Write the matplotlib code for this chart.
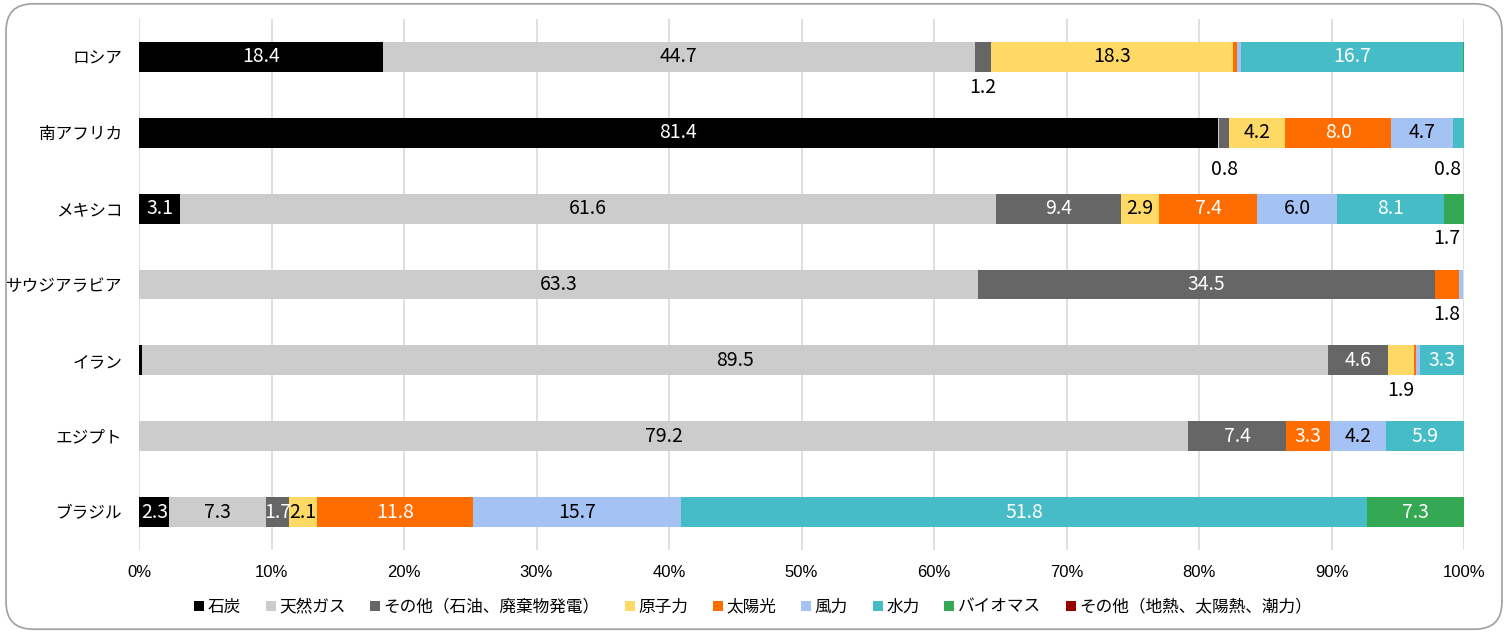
import matplotlib
matplotlib.use("Agg")
import matplotlib.pyplot as plt
from matplotlib.patches import FancyBboxPatch
from matplotlib.lines import Line2D
import numpy as np

plt.rcParams['font.family'] = ['Noto Sans CJK JP', 'DejaVu Sans']

countries = ["ロシア", "南アフリカ", "メキシコ", "サウジアラビア", "イラン", "エジプト", "ブラジル"]
series_names = ["石炭", "天然ガス", "その他（石油、廃棄物発電）", "原子力", "太陽光", "風力",
                "水力", "バイオマス", "その他（地熱、太陽熱、潮力）"]
colors = ["#000000", "#cccccc", "#666666", "#ffd966", "#ff6d01", "#a4c2f4",
          "#46bdc6", "#34a853", "#990000"]
text_colors = ["white", "black", "white", "black", "white", "black", "white", "white", "white"]

coal    = [18.4, 81.4, 3.1, 0.0, 0.2, 0.0, 2.3]
gas     = [44.7, 0.1, 61.6, 63.3, 89.5, 79.2, 7.3]
oil     = [1.2, 0.8, 9.4, 34.5, 4.6, 7.4, 1.7]
nuclear = [18.3, 4.2, 2.9, 0.0, 1.9, 0.0, 2.1]
solar   = [0.3, 8.0, 7.4, 1.8, 0.2, 3.3, 11.8]
wind    = [0.3, 4.7, 6.0, 0.3, 0.3, 4.2, 15.7]
hydro   = [16.7, 0.8, 8.1, 0.0, 3.3, 5.9, 51.8]
biomass = [0.1, 0.1, 1.7, 0.0, 0.1, 0.0, 7.3]
geo     = [0.0, 0.0, 0.0, 0.0, 0.0, 0.0, 0.0]

data = [coal, gas, oil, nuclear, solar, wind, hydro, biomass, geo]
x_ticks = [0, 10, 20, 30, 40, 50, 60, 70, 80, 90, 100]

# labels shown below the bar: (country index, series index)
outside = {(0, 2), (1, 2), (1, 6), (2, 7), (3, 4), (4, 3)}

fig = plt.figure(figsize=(15.08, 6.33), dpi=100)
border = FancyBboxPatch((0.004, 0.006), 0.992, 0.988, boxstyle="round,pad=0,rounding_size=0.018",
                        transform=fig.transFigure, facecolor="none", edgecolor="#a0a0a0",
                        linewidth=1.2, mutation_aspect=1508/633, zorder=10)
fig.patches.append(border)

ax = fig.add_axes([139/1508, 1 - 550/633, (1464 - 139)/1508, (550 - 19)/633])
ax.set_facecolor("none")
y = np.arange(len(countries))
left = np.zeros(len(countries))
handles = []
for si, vals in enumerate(data):
    vals = np.array(vals, dtype=float)
    ax.barh(y, vals, left=left, height=0.395, color=colors[si], linewidth=0, zorder=3)
    for ci, v in enumerate(vals):
        cx = left[ci] + v / 2
        if (ci, si) in outside:
            dy = 0.49 if ci == 1 else 0.40
            ha = "center"
            if cx > 98.5:
                cx, ha = 99.75, "right"
            ax.text(cx, y[ci] + dy, f"{v:.1f}", ha=ha, va="center", fontsize=14,
                    color="black", zorder=4)
        elif v >= 1.6:
            ax.text(cx, y[ci], f"{v:.1f}", ha="center", va="center", fontsize=14,
                    color=text_colors[si], zorder=4)
    left += vals
    handles.append(Line2D([], [], marker="s", linestyle="none", markersize=7,
                          markerfacecolor=colors[si], markeredgewidth=0))

ax.set_xlim(0, 100)
ax.set_ylim(len(countries) - 0.5, -0.5)
ax.set_yticks(y)
ax.set_yticklabels(countries, fontsize=12)
ax.set_xticks(x_ticks)
ax.set_xticklabels([f"{t}%" for t in x_ticks], fontsize=12, family=["Liberation Sans", "DejaVu Sans"])
ax.tick_params(axis="both", length=0)
ax.tick_params(axis="x", pad=11)
ax.tick_params(axis="y", pad=12)
ax.grid(axis="x", color="#d9d9d9", linewidth=1.2, zorder=0)
for s in ax.spines.values():
    s.set_visible(False)

fig.legend(handles, series_names, loc="center", bbox_to_anchor=(753/1508, 1 - 607/633),
           ncol=9, frameon=False, fontsize=12, handlelength=0.6, handletextpad=0.2,
           columnspacing=1.5)

fig.savefig("out.png", dpi=100)
